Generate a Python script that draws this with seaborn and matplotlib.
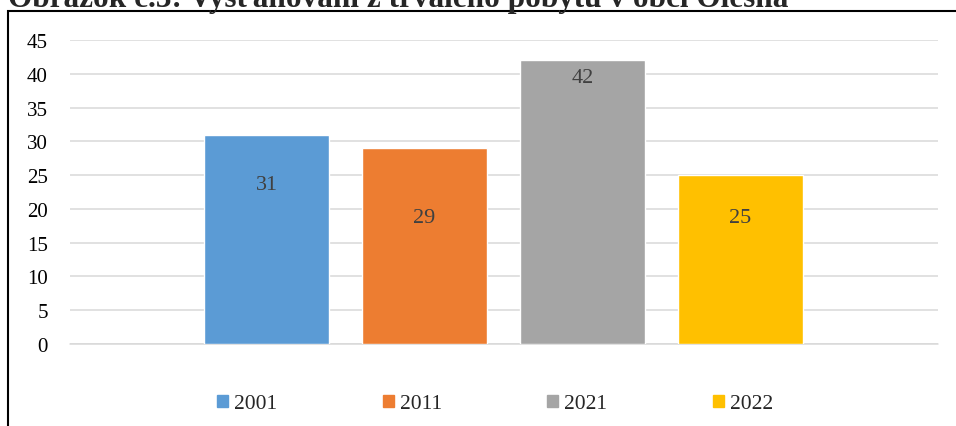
import matplotlib.pyplot as plt
import matplotlib.patches as mpatches
import seaborn as sns

years = ['2001', '2011', '2021', '2022']
counts = [31, 29, 42, 25]
colors = ['#5b9bd5', '#ed7d31', '#a5a5a5', '#ffc000']
title = 'Obrázok č.3: Vysťahovaní z trvalého pobytu v obci Olešná'

sns.set_style('white')
plt.rcParams['font.family'] = ['Liberation Serif', 'DejaVu Serif']

fig = plt.figure(figsize=(9.56, 4.27), dpi=100)
ax = fig.add_axes([70 / 956, 1 - 345 / 427, 868 / 956, 304 / 427])

sns.barplot(x=years, y=counts, hue=years, palette=colors, width=0.79,
            saturation=1, legend=False, ax=ax, zorder=3)

ax.set_xlim(-1.247, 4.253)
ax.set_ylim(0, 45)
ax.set_yticks(range(0, 46, 5))
ax.set_xticks([])
ax.set(xlabel='', ylabel='')
ax.yaxis.grid(True, color='#d9d9d9', linewidth=1.1)
ax.axhline(0, color='#d9d9d9', linewidth=1.1, clip_on=False, zorder=1)
ax.set_axisbelow(True)
for side in ax.spines.values():
    side.set_visible(False)
ax.tick_params(axis='y', length=0, pad=16, labelsize=15, labelcolor='#000000')

# data labels sit at uneven depths inside the bars, as in the original
label_pad = [-42.5, -57, -19, -37.5]
for cont, pad in zip(ax.containers, label_pad):
    ax.bar_label(cont, padding=pad, fontsize=16, color='#404040')

handles = [mpatches.Patch(color=c, label=y) for c, y in zip(colors, years)]
fig.legend(handles=handles, loc='center', bbox_to_anchor=(495 / 956, 1 - 405 / 427),
           ncol=4, frameon=False, fontsize=15.5, handlelength=0.51, handleheight=0.51,
           handletextpad=0.28, columnspacing=4.9)

# outer frame of the chart, partly cut off by the page edge
fig.patches.append(mpatches.Rectangle((8 / 956, -0.1), 1.2, 1.1 - 12 / 427,
                                      transform=fig.transFigure, fill=False,
                                      edgecolor='black', linewidth=1.5))

fig.text(8 / 956, 1 - 7 / 427, title, fontsize=22.5, fontweight='bold',
         ha='left', va='baseline')

fig.savefig('out.png', dpi=100)
